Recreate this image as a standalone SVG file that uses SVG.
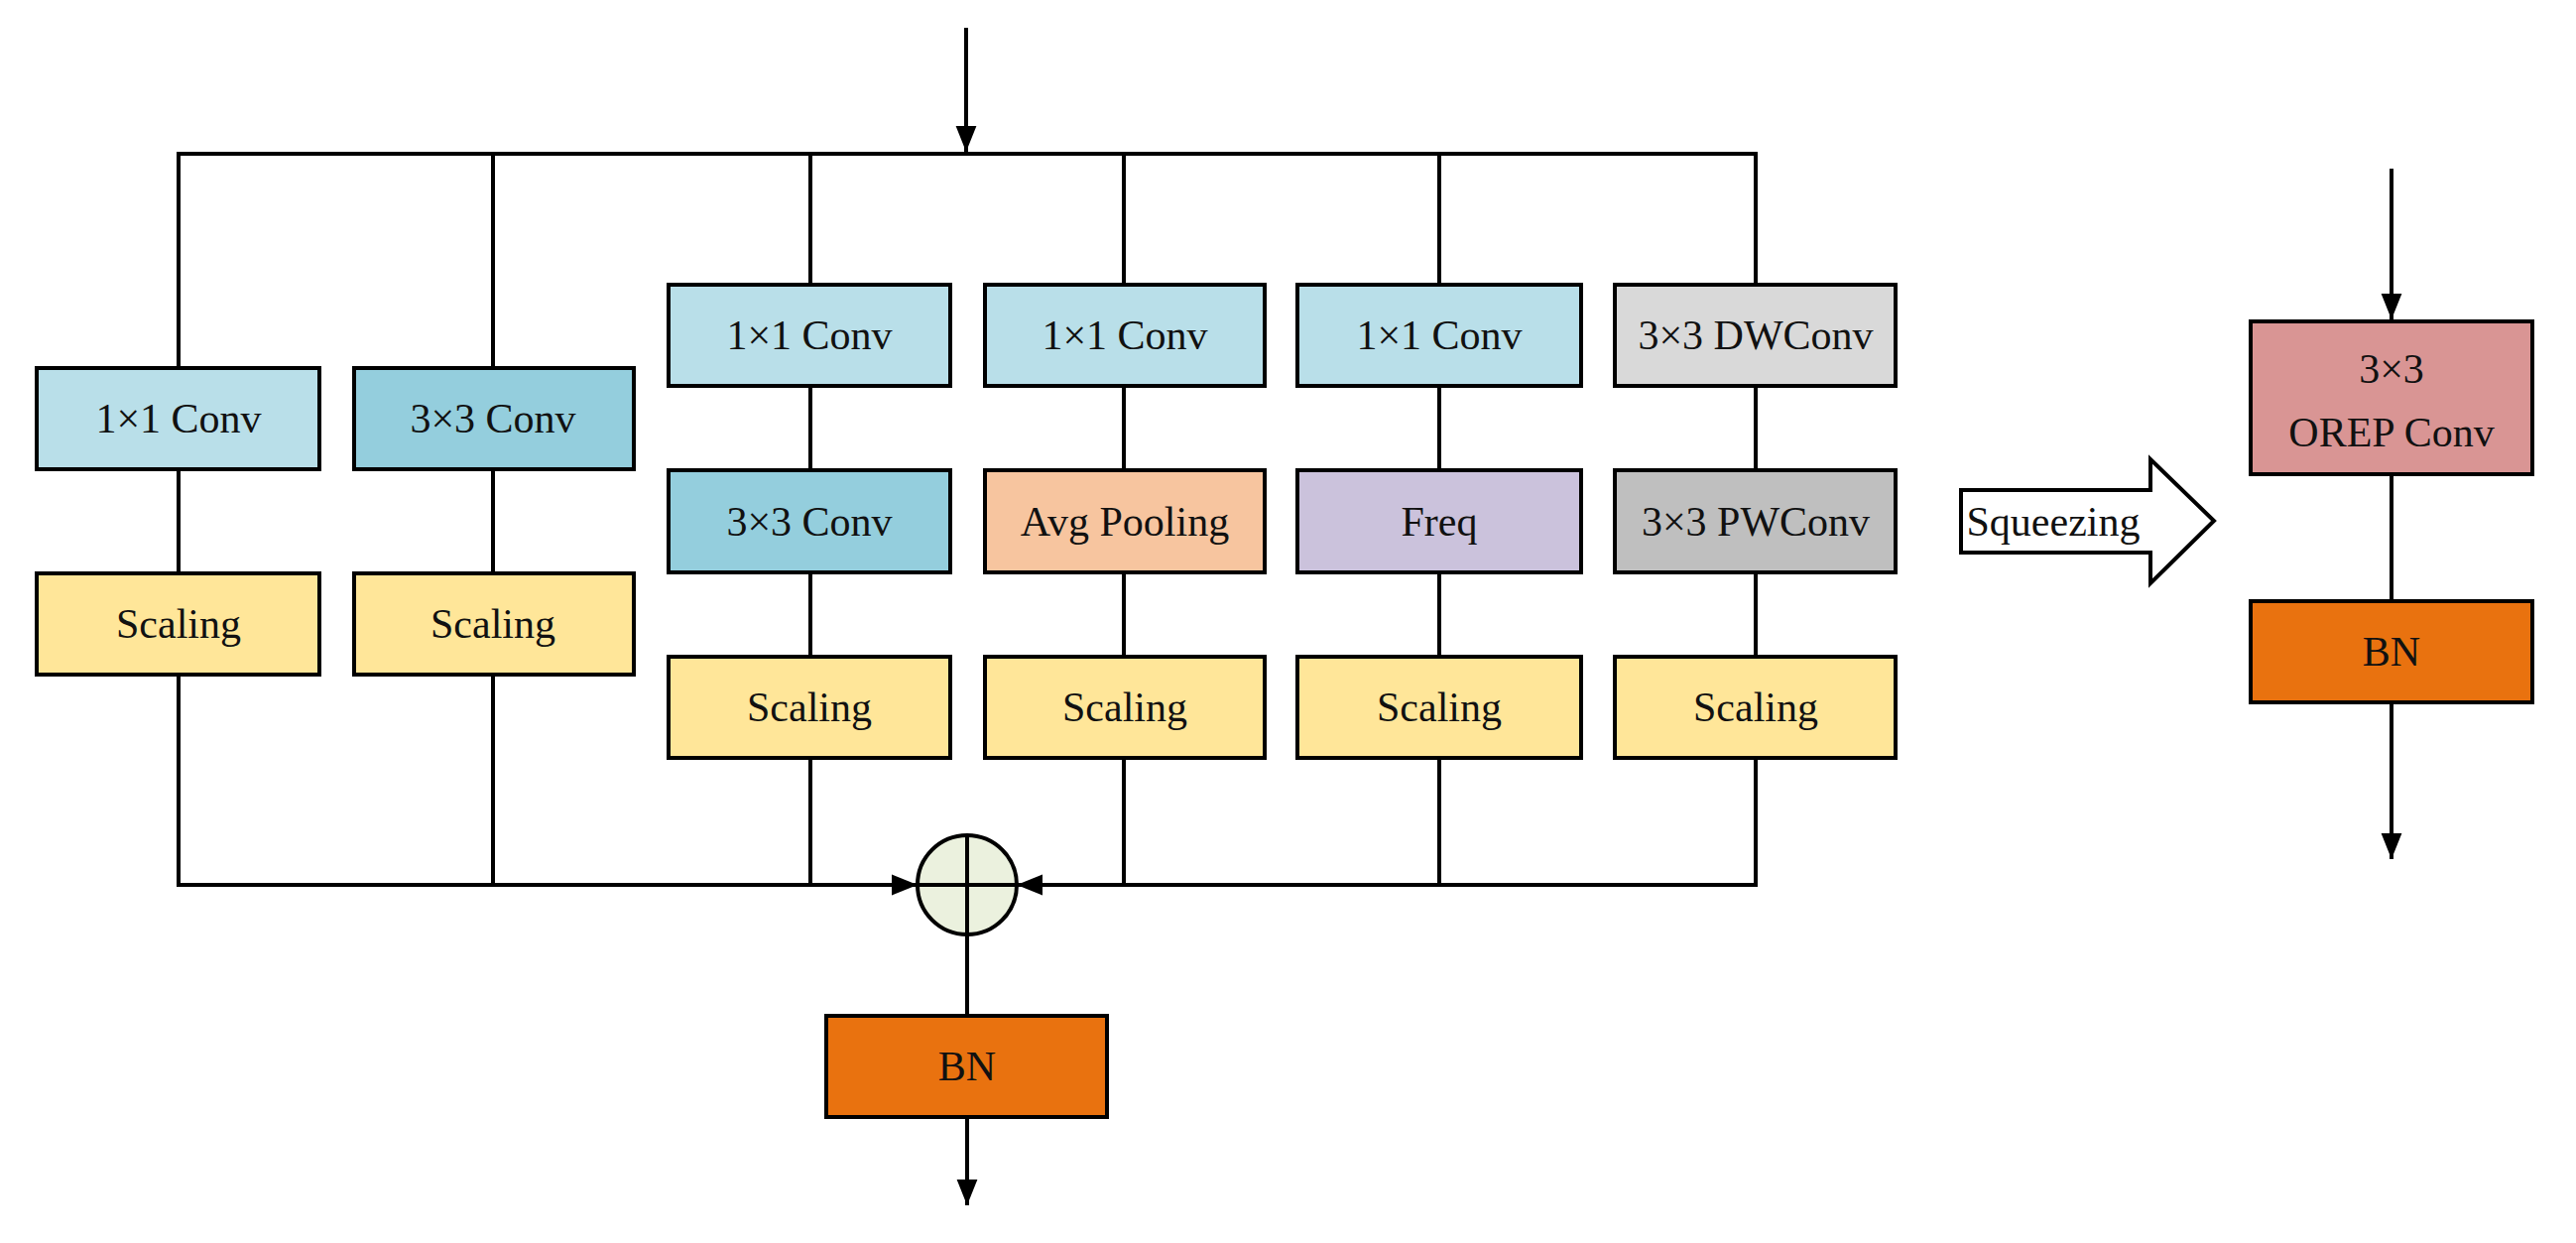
<svg xmlns="http://www.w3.org/2000/svg" width="2597" height="1253" viewBox="0 0 2597 1253">
<style>
.b{stroke:#000;stroke-width:4}
.l{stroke:#000;stroke-width:4;fill:none}
text{font-family:"Liberation Serif","Times New Roman",serif;font-size:42px;text-anchor:middle;fill:#111}
</style>
<defs>
<marker id="a" markerWidth="8" markerHeight="8" refX="8" refY="4" orient="auto" markerUnits="userSpaceOnUse" viewBox="0 0 8 8">
<path d="M0,0L8,4L0,8z" fill="#000"/>
</marker>
<marker id="ah" viewBox="0 0 10 10" refX="10" refY="5" markerWidth="26" markerHeight="26" markerUnits="userSpaceOnUse" orient="auto"><path d="M0,1L10,5L0,9z" fill="#000"/></marker>
</defs>
<rect width="2597" height="1253" fill="#fff"/>
<g id="connectors">
<line class="l" x1="974" y1="28" x2="974" y2="153" marker-end="url(#ah)"/>
<polyline class="l" points="180,371 180,155 1770,155 1770,287"/>
<line class="l" x1="497" y1="155" x2="497" y2="371"/>
<line class="l" x1="817" y1="155" x2="817" y2="287"/>
<line class="l" x1="1133" y1="155" x2="1133" y2="287"/>
<line class="l" x1="1451" y1="155" x2="1451" y2="287"/>
<line class="l" x1="180" y1="473" x2="180" y2="578"/>
<line class="l" x1="497" y1="473" x2="497" y2="578"/>
<line class="l" x1="817" y1="389" x2="817" y2="474"/>
<line class="l" x1="817" y1="577" x2="817" y2="662"/>
<line class="l" x1="1133" y1="389" x2="1133" y2="474"/>
<line class="l" x1="1133" y1="577" x2="1133" y2="662"/>
<line class="l" x1="1451" y1="389" x2="1451" y2="474"/>
<line class="l" x1="1451" y1="577" x2="1451" y2="662"/>
<line class="l" x1="1770" y1="389" x2="1770" y2="474"/>
<line class="l" x1="1770" y1="577" x2="1770" y2="662"/>
<polyline class="l" points="180,680 180,892 925,892" marker-end="url(#ah)"/>
<polyline class="l" points="1770,764 1770,892 1025,892" marker-end="url(#ah)"/>
<line class="l" x1="497" y1="680" x2="497" y2="892"/>
<line class="l" x1="817" y1="764" x2="817" y2="892"/>
<line class="l" x1="1133" y1="764" x2="1133" y2="892"/>
<line class="l" x1="1451" y1="764" x2="1451" y2="892"/>
<line class="l" x1="975" y1="942" x2="975" y2="1024"/>
<line class="l" x1="975" y1="1126" x2="975" y2="1215" marker-end="url(#ah)"/>
<line class="l" x1="2411" y1="170" x2="2411" y2="322" marker-end="url(#ah)"/>
<line class="l" x1="2411" y1="478" x2="2411" y2="606"/>
<line class="l" x1="2411" y1="708" x2="2411" y2="866" marker-end="url(#ah)"/>
</g>
<g id="c1a"><rect class="b" x="37" y="371" width="285" height="102" fill="#b9dfe9"/><text x="180" y="436">1×1 Conv</text></g>
<g id="c1b"><rect class="b" x="37" y="578" width="285" height="102" fill="#ffe699"/><text x="180" y="643">Scaling</text></g>
<g id="c2a"><rect class="b" x="357" y="371" width="282" height="102" fill="#94cedd"/><text x="497" y="436">3×3 Conv</text></g>
<g id="c2b"><rect class="b" x="357" y="578" width="282" height="102" fill="#ffe699"/><text x="497" y="643">Scaling</text></g>
<g id="c3a"><rect class="b" x="674" y="287" width="284" height="102" fill="#b9dfe9"/><text x="816" y="352">1×1 Conv</text></g>
<g id="c3b"><rect class="b" x="674" y="474" width="284" height="103" fill="#94cedd"/><text x="816" y="540">3×3 Conv</text></g>
<g id="c3c"><rect class="b" x="674" y="662" width="284" height="102" fill="#ffe699"/><text x="816" y="727">Scaling</text></g>
<g id="c4a"><rect class="b" x="993" y="287" width="282" height="102" fill="#b9dfe9"/><text x="1134" y="352">1×1 Conv</text></g>
<g id="c4b"><rect class="b" x="993" y="474" width="282" height="103" fill="#f7c59f"/><text x="1134" y="540">Avg Pooling</text></g>
<g id="c4c"><rect class="b" x="993" y="662" width="282" height="102" fill="#ffe699"/><text x="1134" y="727">Scaling</text></g>
<g id="c5a"><rect class="b" x="1308" y="287" width="286" height="102" fill="#b9dfe9"/><text x="1451" y="352">1×1 Conv</text></g>
<g id="c5b"><rect class="b" x="1308" y="474" width="286" height="103" fill="#cbc2dc"/><text x="1451" y="540">Freq</text></g>
<g id="c5c"><rect class="b" x="1308" y="662" width="286" height="102" fill="#ffe699"/><text x="1451" y="727">Scaling</text></g>
<g id="c6a"><rect class="b" x="1628" y="287" width="283" height="102" fill="#d9d9d9"/><text x="1770" y="352">3×3 DWConv</text></g>
<g id="c6b"><rect class="b" x="1628" y="474" width="283" height="103" fill="#bfbfbf"/><text x="1770" y="540">3×3 PWConv</text></g>
<g id="c6c"><rect class="b" x="1628" y="662" width="283" height="102" fill="#ffe699"/><text x="1770" y="727">Scaling</text></g>
<g id="add"><circle class="b" cx="975" cy="892" r="50" fill="#ebf1de"/><line class="l" x1="925" y1="892" x2="1025" y2="892"/><line class="l" x1="975" y1="842" x2="975" y2="942"/></g>
<g id="bn1"><rect class="b" x="833" y="1024" width="283" height="102" fill="#e9720f"/><text x="975" y="1089">BN</text></g>
<g id="squeeze"><path class="b" d="M1977,494H2168V463L2232,525L2168,588V557H1977Z" fill="#fff"/><text x="2070" y="540" font-size="40">Squeezing</text></g>
<g id="orep"><rect class="b" x="2269" y="324" width="284" height="154" fill="#d99594"/><text x="2411" y="386">3×3</text><text x="2411" y="450">OREP Conv</text></g>
<g id="bn2"><rect class="b" x="2269" y="606" width="284" height="102" fill="#e9720f"/><text x="2411" y="671">BN</text></g>
</svg>
